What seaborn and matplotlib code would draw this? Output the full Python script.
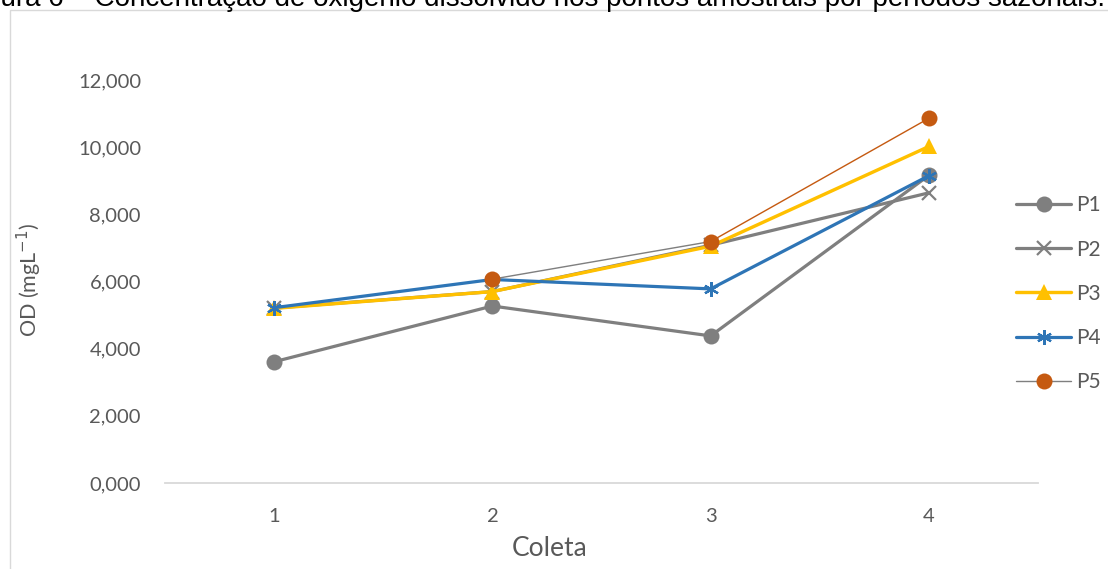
import numpy as np
import pandas as pd
import matplotlib
matplotlib.use("Agg")
import matplotlib.pyplot as plt
from matplotlib.lines import Line2D
from matplotlib.patches import Rectangle
import seaborn as sns

# Dissolved oxygen (mg/L) per sampling campaign and sampling point
coleta = [1, 2, 3, 4]
p1 = [3.61, 5.27, 4.38, 9.16]
p2 = [5.21, 5.70, 7.08, 8.64]
p3 = [5.20, 5.70, 7.05, 10.02]
p4 = [5.22, 6.06, 5.78, 9.15]
p5 = [np.nan, 6.07, 7.19, 10.86]
series_names = ["P1", "P2", "P3", "P4", "P5"]
y_ticks = [0, 2, 4, 6, 8, 10, 12]

W, H, DPI = 1108, 569, 100
sns.set_theme(style="white")
plt.rcParams["font.family"] = ["Lato", "DejaVu Sans"]

fig = plt.figure(figsize=(W / DPI, H / DPI), dpi=DPI)
ax = fig.add_axes([165 / W, 1 - 483 / H, (1038 - 165) / W, (483 - 80) / H])

GRAY = "#7F7F7F"
YELLOW = "#FFC000"
BLUE = "#2E75B6"
ORANGE = "#C55A11"
TEXT = "#595959"

df = pd.DataFrame({"Coleta": coleta, "P1": p1, "P2": p2, "P3": p3, "P4": p4, "P5": p5})

def px2pt(px):
    return px * 72 / DPI

# P1 – grey circles
sns.lineplot(data=df, x="Coleta", y="P1", ax=ax, color=GRAY, lw=px2pt(3.2),
             marker="o", markersize=px2pt(16), markeredgewidth=0, clip_on=False)
# P2 – grey crosses
sns.lineplot(data=df, x="Coleta", y="P2", ax=ax, color=GRAY, lw=px2pt(3.2),
             marker="x", markersize=px2pt(14), markeredgewidth=px2pt(2.2),
             markeredgecolor=GRAY, clip_on=False)
# P3 – yellow triangles
sns.lineplot(data=df, x="Coleta", y="P3", ax=ax, color=YELLOW, lw=px2pt(3.4),
             marker="^", markersize=px2pt(16), markeredgewidth=0, clip_on=False)
# P4 – blue asterisks
sns.lineplot(data=df, x="Coleta", y="P4", ax=ax, color=BLUE, lw=px2pt(3.2),
             marker=(6, 2, 0), markersize=px2pt(15), markeredgewidth=px2pt(2.2),
             markeredgecolor=BLUE, clip_on=False)
# P5 – thin grey line, last segment orange, orange circles
d5 = df.dropna(subset=["P5"])
sns.lineplot(data=d5.iloc[:2], x="Coleta", y="P5", ax=ax, color=GRAY, lw=px2pt(1.4), clip_on=False)
sns.lineplot(data=d5.iloc[1:], x="Coleta", y="P5", ax=ax, color=ORANGE, lw=px2pt(1.4), clip_on=False)
sns.scatterplot(data=d5, x="Coleta", y="P5", ax=ax, color=ORANGE, s=px2pt(16) ** 2,
                linewidth=0, zorder=5, clip_on=False)

ax.set_xlim(0.5, 4.5)
ax.set_ylim(0, 12)
ax.set_xticks(coleta)
ax.set_xticklabels([str(c) for c in coleta])
ax.set_yticks(y_ticks)
ax.set_yticklabels([f"{v:.3f}".replace(".", ",") for v in y_ticks])
ax.tick_params(axis="both", length=0, labelsize=14.5, labelcolor=TEXT)
ax.tick_params(axis="x", pad=px2pt(25))
ax.tick_params(axis="y", pad=px2pt(24))
for s in ["top", "right", "left"]:
    ax.spines[s].set_visible(False)
ax.spines["bottom"].set_color("#D9D9D9")
ax.spines["bottom"].set_linewidth(1.3)
ax.grid(False)
ax.set_facecolor("none")

ax.set_xlabel("Coleta", fontsize=19, color=TEXT, va="top")
ax.xaxis.set_label_coords((550 - 165) / 873, (483 - 536) / 403)
ax.set_ylabel("OD (mgL$^{-1}$)", fontsize=15.5, color=TEXT)
ax.yaxis.set_label_coords((44 - 165) / 873, (483 - 280) / 403)

# Legend
handles = [
    Line2D([], [], color=GRAY, lw=px2pt(3.2), marker="o", markersize=px2pt(16), markeredgewidth=0),
    Line2D([], [], color=GRAY, lw=px2pt(3.2), marker="x", markersize=px2pt(14), markeredgewidth=px2pt(2.2)),
    Line2D([], [], color=YELLOW, lw=px2pt(3.4), marker="^", markersize=px2pt(16), markeredgewidth=0),
    Line2D([], [], color=BLUE, lw=px2pt(3.2), marker=(6, 2, 0), markersize=px2pt(15), markeredgewidth=px2pt(2.2)),
    Line2D([], [], color=GRAY, lw=px2pt(1.4), marker="o", markersize=px2pt(16),
           markerfacecolor=ORANGE, markeredgewidth=0),
]
leg = fig.legend(handles, series_names, loc="upper left",
                 bbox_to_anchor=(1006 / W, 1 - 185 / H), frameon=False,
                 fontsize=15, labelcolor=TEXT, handlelength=2.6,
                 handletextpad=0.25, labelspacing=1.16, borderpad=0)

# Outer chart frame
fig.add_artist(Rectangle((9.5 / W, -0.1), 2, (H - 9.5) / H + 0.1, transform=fig.transFigure,
                         fill=False, edgecolor="#D9D9D9", lw=1.0))

# Caption above the chart
fig.text(-38 / W, 1 - 6 / H, "Figura 6 \u2013 Concentração de oxigênio dissolvido nos pontos amostrais por períodos sazonais.",
         family=["Liberation Sans", "DejaVu Sans"], fontsize=20, color="black",
         ha="left", va="baseline")

fig.savefig("out.png", dpi=DPI)
